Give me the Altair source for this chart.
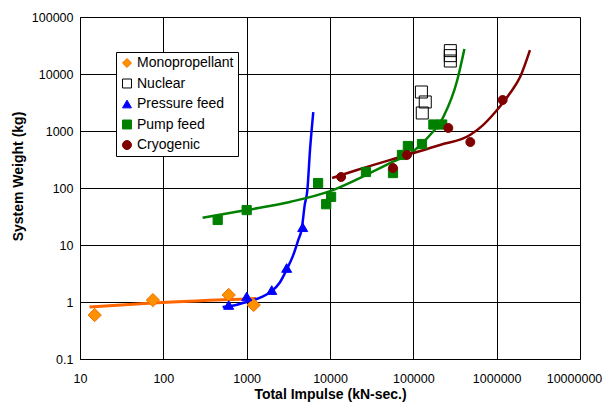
import altair as alt
import pandas as pd

FONT = "Liberation Sans, Arial, sans-serif"

# ---- marker data ----
mono_x = [15, 75, 608, 1214]
mono_y = [0.59, 1.08, 1.33, 0.886]

nuc_x = [278000, 278000, 278000, 125000, 139000, 128000]
nuc_y = [25700, 21000, 16900, 4830, 3230, 2070]

pres_x = [608, 1000, 2000, 3020, 4700]
pres_y = [0.886, 1.25, 1.62, 3.95, 20.5]

pump_x = [449, 1000, 7200, 10300, 9000, 27000, 57000, 73000, 86000, 127000, 174000, 222000]
pump_y = [27.5, 41, 122, 70, 52, 191, 183, 380, 545, 590, 1300, 1300]

cryo_x = [13600, 57000, 84000, 263000, 483000, 1180000]
cryo_y = [156, 224, 380, 1130, 640, 3500]

# ---- trend curves ----
mono_cx = [13, 75, 1300]
mono_cy = [0.82, 0.96, 1.15]

pres_cx = [515, 700, 1000, 1500, 2000, 2500, 3020, 3600, 4100, 4600, 4970, 5350, 5760, 6300]
pres_cy = [0.82, 0.87, 1.0, 1.22, 1.55, 2.2, 3.7, 6.5, 11.5, 20, 50, 92, 470, 2150]

pump_cx = [296, 1000, 3300, 10000, 27000, 57000, 100000, 151000, 229000, 337000, 410000]
pump_cy = [30, 41, 57, 88, 169, 289, 440, 785, 1760, 7850, 27500]

cryo_cx = [10600, 21100, 84000, 209000, 479000, 686000, 1010000, 1450000, 1910000, 2510000]
cryo_cy = [150, 207, 380, 568, 851, 1270, 2330, 4640, 8850, 26300]

series = ["Monopropellant", "Nuclear", "Pressure feed", "Pump feed", "Cryogenic"]
fills = ["#FF9000", "transparent", "#0000FF", "#008000", "#800000"]
strokes = ["#F07000", "#000000", "#0000FF", "#008000", "#800000"]
shapes = ["diamond", "square", "triangle-up", "square", "circle"]

rows = []
for name, xs, ys in [("Monopropellant", mono_x, mono_y), ("Nuclear", nuc_x, nuc_y),
                     ("Pressure feed", pres_x, pres_y), ("Pump feed", pump_x, pump_y),
                     ("Cryogenic", cryo_x, cryo_y)]:
    for a, b in zip(xs, ys):
        rows.append({"series": name, "x": a, "y": b})
pts = pd.DataFrame(rows)

sizes = {"Monopropellant": 175, "Nuclear": 144, "Pressure feed": 100, "Pump feed": 85, "Cryogenic": 80}
pts["sz"] = pts["series"].map(sizes)

xticks = [10, 100, 1000, 10000, 100000, 1000000, 10000000]
yticks = [0.1, 1, 10, 100, 1000, 10000, 100000]

xscale = alt.Scale(type="log", domain=[10, 10000000])
yscale = alt.Scale(type="log", domain=[0.1, 100000])

xaxis = alt.Axis(values=xticks, format=".10~g", title="Total Impulse (kN-sec.)",
                 grid=True, gridColor="#000", gridOpacity=1, ticks=False,
                 labelPadding=13, labelFontSize=12.5, labelFont=FONT, labelColor="#000",
                 labelOffset={"condition": {"test": "datum.value >= 10000000", "value": -6}, "value": 0},
                 titleFont=FONT, titleFontSize=14, titleFontWeight="bold", titleColor="#000",
                 titleY=35, titleBaseline="middle",
                 domainColor="#000", labelFlush=False)
yaxis = alt.Axis(values=yticks, format=".10~g", title="System Weight (kg)",
                 grid=True, gridColor="#000", gridOpacity=1, ticks=False,
                 labelPadding=7, labelFontSize=12.5, labelFont=FONT, labelColor="#000",
                 titleFont=FONT, titleFontSize=14, titleFontWeight="bold", titleColor="#000",
                 titleX=-62, titleY=159, titleBaseline="middle", titleAngle=-90,
                 domainColor="#000", labelFlush=False)


def curve(xs, ys, color, width):
    df = pd.DataFrame({"x": xs, "y": ys})
    return alt.Chart(df).mark_line(color=color, strokeWidth=width, interpolate="monotone").encode(
        x=alt.X("x:Q", scale=xscale, axis=xaxis),
        y=alt.Y("y:Q", scale=yscale, axis=yaxis),
    )

lines = [
    curve(mono_cx, mono_cy, "#FF6600", 3),
    curve(pres_cx, pres_cy, "#0000FF", 2.5),
    curve(pump_cx, pump_cy, "#008000", 2.5),
    curve(cryo_cx, cryo_cy, "#800000", 2.5),
]

legend = alt.Legend(title=None, orient="none", legendX=36, legendY=35,
                    labelFont=FONT, labelFontSize=14, labelColor="#000",
                    symbolSize=80, symbolStrokeWidth=1, labelOffset=3,
                    rowPadding=6.5, padding=4, strokeColor="#000", fillColor="#fff",
                    cornerRadius=0, symbolOpacity=1)

points = alt.Chart(pts).mark_point(opacity=1, fillOpacity=1, strokeWidth=1).encode(
    x=alt.X("x:Q", scale=xscale, axis=xaxis),
    y=alt.Y("y:Q", scale=yscale, axis=yaxis),
    fill=alt.Fill("series:N", scale=alt.Scale(domain=series, range=fills), legend=legend),
    stroke=alt.Stroke("series:N", scale=alt.Scale(domain=series, range=strokes), legend=legend),
    shape=alt.Shape("series:N", scale=alt.Scale(domain=series, range=shapes), legend=legend),
    size=alt.Size("sz:Q", scale=None, legend=None),
)

chart = alt.layer(*lines, points).properties(
    width=500, height=342,
    autosize=alt.AutoSizeParams(type="none"),
    padding={"left": 72, "top": 9, "right": 23, "bottom": 46},
).configure_view(stroke="#000", strokeWidth=1).configure(background="#fff")

chart.save("out.html", embed_options={"renderer": "svg", "actions": False})
